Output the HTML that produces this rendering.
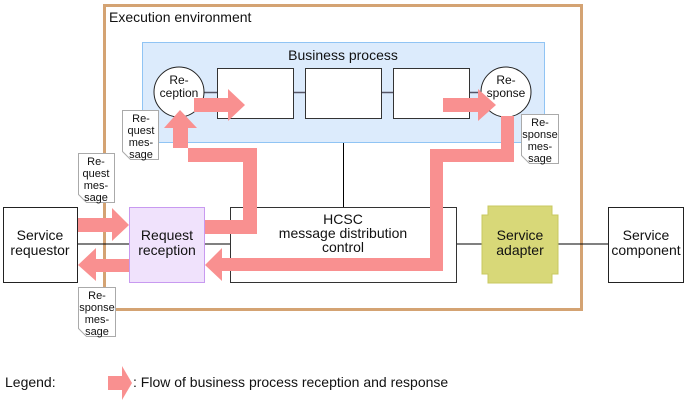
<!DOCTYPE html>
<html><head><meta charset="utf-8"><style>
body{margin:0;background:#fff}
text{font-family:"Liberation Sans",sans-serif;fill:#111}
</style></head><body>
<svg width="687" height="403" viewBox="0 0 687 403" xmlns="http://www.w3.org/2000/svg">
<rect x="0" y="0" width="687" height="403" fill="#fff"/>
<rect x="104.5" y="5.5" width="477" height="304" fill="none" stroke="#d4a373" stroke-width="3"/>
<text x="109" y="22" font-size="14">Execution environment</text>
<line x1="78" y1="244" x2="608" y2="244" stroke="#000" stroke-width="1"/>
<line x1="343.5" y1="143" x2="343.5" y2="207" stroke="#000"/>
<rect x="142.5" y="42.5" width="402" height="100" fill="#dcebfc" stroke="#90c4f4"/>
<text x="343" y="60" font-size="14" text-anchor="middle">Business process</text>
<line x1="204" y1="92.5" x2="482" y2="92.5" stroke="#556" stroke-width="1.5"/>
<rect x="217.5" y="68.5" width="76" height="50" fill="#fff" stroke="#333"/>
<rect x="305.5" y="68.5" width="76" height="50" fill="#fff" stroke="#333"/>
<rect x="393.5" y="68.5" width="76" height="50" fill="#fff" stroke="#333"/>
<circle cx="179" cy="92" r="25" fill="#fff" stroke="#222"/>
<text x="179" y="84" font-size="12" text-anchor="middle">Re-</text>
<text x="179" y="97" font-size="12" text-anchor="middle">ception</text>
<circle cx="506" cy="92" r="25" fill="#fff" stroke="#222"/>
<text x="506" y="84" font-size="12" text-anchor="middle">Re-</text>
<text x="506" y="97" font-size="12" text-anchor="middle">sponse</text>
<rect x="3.5" y="207.5" width="74" height="75" fill="#fff" stroke="#222"/>
<text x="40" y="240" font-size="14" text-anchor="middle">Service</text>
<text x="40" y="255" font-size="14" text-anchor="middle">requestor</text>
<rect x="230.5" y="207.5" width="226" height="75" fill="#fff" stroke="#333"/>
<text x="343" y="224" font-size="14" text-anchor="middle">HCSC</text>
<text x="343" y="238" font-size="14" text-anchor="middle">message distribution</text>
<text x="343" y="252" font-size="14" text-anchor="middle">control</text>
<polygon points="488,206 552,206 552,215 558,215 558,274 552,274 552,283 488,283 488,274 482,274 482,215 488,215" fill="#d8d878" stroke="#c8c860"/>
<text x="520" y="240" font-size="14" text-anchor="middle">Service</text>
<text x="520" y="255" font-size="14" text-anchor="middle">adapter</text>
<rect x="608.5" y="207.5" width="75" height="75" fill="#fff" stroke="#222"/>
<text x="646" y="240" font-size="14" text-anchor="middle">Service</text>
<text x="646" y="255" font-size="14" text-anchor="middle">component</text>
<g fill="#f99090">
<polygon points="78,218 112,218 112,208 129,225 112,241 112,232 78,232"/>
<polygon points="205,220 243,220 243,162 188,162 188,128 197,128 180,110 164,128 173,128 173,148 257,148 257,234 205,234"/>
<polygon points="194,98 228,98 228,89 245,105 228,121 228,112 194,112"/>
<polygon points="443,98 478,98 478,89 496,105 478,121 478,112 443,112"/>
<polygon points="501,116 514,116 514,162 443,162 443,271 222,271 222,281 205,265 222,248 222,258 430,258 430,149 501,149"/>
<polygon points="129,259 96,259 96,248 78,265 96,281 96,272 129,272"/>
<polygon points="108,376 122,376 122,366 132,383 122,400 122,390 108,390"/>
</g>
<rect x="129.5" y="207.5" width="75" height="75" fill="#f0e2fc" stroke="#c89af0"/>
<text x="167" y="240" font-size="14" text-anchor="middle">Request</text>
<text x="167" y="255" font-size="14" text-anchor="middle">reception</text>
<g font-size="11" text-anchor="middle">
<polygon points="122.5,110.5 158.5,110.5 158.5,159.5 130.5,159.5 122.5,151.5" fill="#fff" stroke="#aaa"/>
<text x="141" y="122">Re-</text><text x="141" y="134">quest</text><text x="141" y="146">mes-</text><text x="141" y="158">sage</text>
<polygon points="78.5,153.5 114.5,153.5 114.5,202.5 86.5,202.5 78.5,194.5" fill="#fff" stroke="#aaa"/>
<text x="96" y="165">Re-</text><text x="96" y="177">quest</text><text x="96" y="189">mes-</text><text x="96" y="201">sage</text>
<polygon points="521.5,114.5 558.5,114.5 558.5,163.5 529.5,163.5 521.5,155.5" fill="#fff" stroke="#aaa"/>
<text x="540" y="126">Re-</text><text x="540" y="138">sponse</text><text x="540" y="150">mes-</text><text x="540" y="162">sage</text>
<polygon points="78.5,287.5 115.5,287.5 115.5,336.5 86.5,336.5 78.5,328.5" fill="#fff" stroke="#aaa"/>
<text x="97" y="299">Re-</text><text x="97" y="311">sponse</text><text x="97" y="323">mes-</text><text x="97" y="335">sage</text>
</g>
<text x="5" y="387" font-size="14">Legend:</text>
<text x="133" y="387" font-size="14">: Flow of business process reception and response</text>
</svg>
</body></html>
